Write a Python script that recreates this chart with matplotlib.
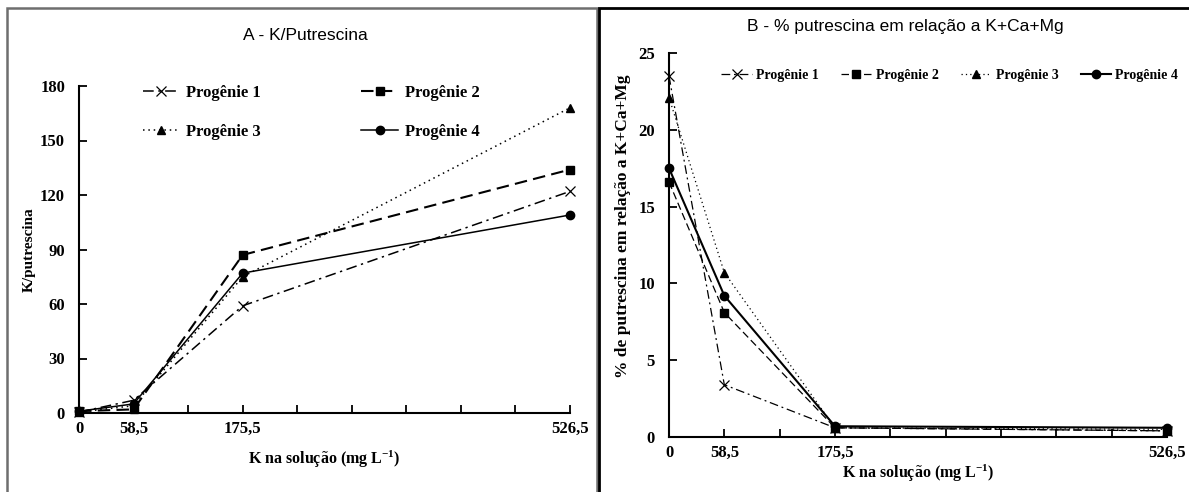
import matplotlib
matplotlib.use("Agg")
import matplotlib.pyplot as plt
from matplotlib.patches import Rectangle

plt.rcParams['mathtext.fontset'] = 'custom'
plt.rcParams['mathtext.rm'] = 'Liberation Serif:bold'
plt.rcParams['mathtext.bf'] = 'Liberation Serif:bold'
plt.rcParams['mathtext.it'] = 'Liberation Serif:bold:italic'

# ---- data ----
k_levels = [0, 58.5, 175.5, 526.5]
series_names = ["Progênie 1", "Progênie 2", "Progênie 3", "Progênie 4"]

# A - K/Putrescina
a_p1 = [0.5, 7, 59, 122]
a_p2 = [1, 2, 87, 134]
a_p3 = [0.5, 4, 75, 168]
a_p4 = [1, 5, 77, 109]

# B - % putrescina em relação a K+Ca+Mg
b_p1 = [23.5, 3.4, 0.6, 0.4]
b_p2 = [16.6, 8.1, 0.6, 0.4]
b_p3 = [22.1, 10.7, 0.6, 0.5]
b_p4 = [17.5, 9.2, 0.7, 0.6]

x_tick_labels = ["0", "58,5", "175,5", "526,5"]
a_yticks = [0, 30, 60, 90, 120, 150, 180]
b_yticks = [0, 5, 10, 15, 20, 25]

styles = [
    dict(marker='x', linestyle=(0, (7, 3, 1.5, 3)), ms=7, mew=0.9),
    dict(marker='s', linestyle=(0, (6, 3)), ms=6),
    dict(marker='^', linestyle=(0, (1, 2.5)), ms=6),
    dict(marker='o', linestyle='-', ms=6),
]

fig = plt.figure(figsize=(11.89, 4.92), dpi=100)
W, H = 1189, 492

def fx(px):
    return px / W

def fy(py):
    return 1 - py / H

# panel frames
fig.add_artist(Rectangle((fx(7), fy(560)), fx(590), 552 / H, transform=fig.transFigure,
                         fill=False, edgecolor='#6e6e6e', lw=1.8))
fig.add_artist(Rectangle((fx(599), fy(560)), fx(700), 552 / H, transform=fig.transFigure,
                         fill=False, edgecolor='black', lw=2.0))

serif_bold = dict(family='Liberation Serif', weight='bold')
xticks_all = [58.5 * i for i in range(10)]

def style_axes(ax, ymax, yticks, tick_fs):
    ax.set_xlim(0, 526.5)
    ax.set_ylim(0, ymax)
    for s in ['top', 'right']:
        ax.spines[s].set_visible(False)
    for s in ['left', 'bottom']:
        ax.spines[s].set_linewidth(1.5)
    ax.set_xticks(xticks_all)
    labels = []
    for t in xticks_all:
        lab = ""
        for kv, kl in zip(k_levels, x_tick_labels):
            if abs(t - kv) < 1e-6:
                lab = kl
        labels.append(lab)
    ax.set_xticklabels(labels)
    ax.set_yticks(yticks)
    ax.tick_params(axis='both', direction='in', length=6, width=1.3, labelsize=tick_fs)
    ax.tick_params(axis='x', pad=6)
    ax.tick_params(axis='y', pad=10)
    for lab in ax.get_xticklabels() + ax.get_yticklabels():
        lab.set_fontfamily('Liberation Serif')
        lab.set_fontweight('bold')

# ---- panel A ----
axA = fig.add_axes([fx(79), fy(413), fx(570 - 79), (413 - 86) / H])
linesA = []
for yv, name, st in zip([a_p1, a_p2, a_p3, a_p4], series_names, styles):
    lw = 1.5 if st['marker'] == 's' else 1.1
    ln, = axA.plot(k_levels, yv, color='black', lw=lw, marker=st['marker'], linestyle=st['linestyle'],
                   ms=st['ms'], mew=st.get('mew', 1), label=name, clip_on=False)
    linesA.append(ln)
style_axes(axA, 180, a_yticks, 12)
axA.set_ylabel("K/putrescina", fontsize=11, **serif_bold)
axA.yaxis.set_label_coords(-0.088, 0.5)
axA.set_xlabel("K na solução (mg L$^{-1}$)", fontsize=11.5, **serif_bold)
axA.xaxis.set_label_coords(0.5, -0.11)
fig.text(fx(305), fy(35), "A - K/Putrescina", ha='center', va='center',
         family='Liberation Sans', fontsize=12.5)
order = [0, 2, 1, 3]
legA = axA.legend([linesA[i] for i in order], [series_names[i] for i in order],
                  loc='upper left', bbox_to_anchor=(0.1, 1.05), ncol=2, frameon=False,
                  prop=dict(family='Liberation Serif', weight='bold', size=12),
                  handlelength=2.2, columnspacing=6.0, labelspacing=1.4, handletextpad=0.4)

# ---- panel B ----
axB = fig.add_axes([fx(669), fy(437), fx(1167 - 669), (437 - 53) / H])
for yv, name, st in zip([b_p1, b_p2, b_p3, b_p4], series_names, styles):
    lw = 1.5 if st['marker'] == 'o' else 0.9
    axB.plot(k_levels, yv, color='black', lw=lw, marker=st['marker'], linestyle=st['linestyle'],
             ms=st['ms'], mew=st.get('mew', 1), label=name, clip_on=False)
style_axes(axB, 25, b_yticks, 12)
axB.set_ylabel("% de putrescina em relação a K+Ca+Mg", fontsize=12.5, **serif_bold)
axB.yaxis.set_label_coords(-0.076, 0.55)
axB.set_xlabel("K na solução (mg L$^{-1}$)", fontsize=11.5, **serif_bold)
axB.xaxis.set_label_coords(0.5, -0.068)
fig.text(fx(905), fy(26), "B - % putrescina em relação a K+Ca+Mg", ha='center', va='center',
         family='Liberation Sans', fontsize=12.5)
legB = axB.legend(loc='upper left', bbox_to_anchor=(0.08, 0.99), ncol=4, frameon=False,
                  prop=dict(family='Liberation Serif', weight='bold', size=10),
                  handlelength=2.2, columnspacing=1.6, handletextpad=0.3)

fig.savefig("out.png", dpi=100)
